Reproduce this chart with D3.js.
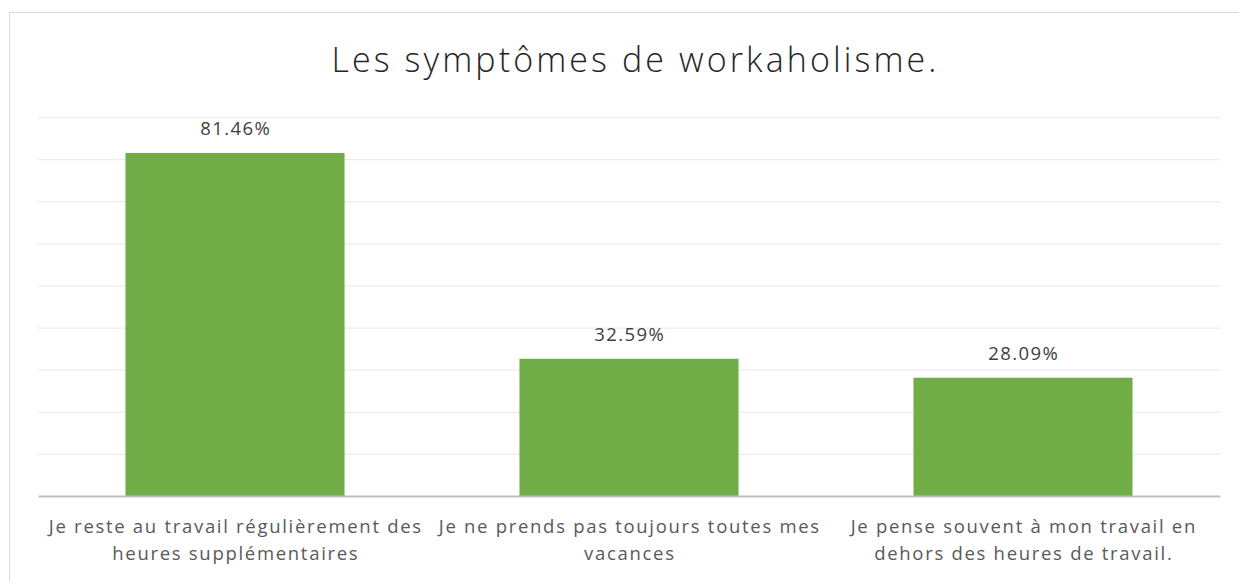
<!DOCTYPE html>
<html>
<head>
  <meta charset="utf-8">
  <title>Les symptômes de workaholisme.</title>
  <style>
    body { margin: 0; background: #fff; }
    text { font-family: "Open Sans", "Noto Sans", sans-serif; }
  </style>
</head>
<body>
  <script src="https://cdn.jsdelivr.net/npm/d3@7"></script>
  <script>
    // data
    var categories = [
      ["Je reste au travail régulièrement des", "heures supplémentaires"],
      ["Je ne prends pas toujours toutes mes", "vacances"],
      ["Je pense souvent à mon travail en", "dehors des heures de travail."]
    ];
    var values = [81.46, 32.59, 28.09];
    var yTicks = [0, 10, 20, 30, 40, 50, 60, 70, 80, 90];

    var width = 1239, height = 581;
    var margin = {top: 117, right: 19, bottom: 85, left: 38};

    var svg = d3.select("body").append("svg")
      .attr("width", width)
      .attr("height", height);

    // chart border
    svg.append("rect")
      .attr("x", 9.5).attr("y", 12.5)
      .attr("width", 1240).attr("height", 600)
      .attr("fill", "none")
      .attr("stroke", "#d9d9d9")
      .attr("stroke-width", 1);

    var x = d3.scaleBand()
      .domain(d3.range(values.length))
      .range([margin.left, width - margin.right])
      .paddingInner(0.444)
      .paddingOuter(0.222);

    var y = d3.scaleLinear()
      .domain([0, 90])
      .range([height - margin.bottom, margin.top]);

    // gridlines
    svg.append("g")
      .attr("id", "grid")
      .selectAll("line")
      .data(yTicks.slice(1))
      .enter()
      .append("line")
      .attr("x1", margin.left)
      .attr("x2", width - margin.right)
      .attr("y1", function(d) { return y(d) + 0.5; })
      .attr("y2", function(d) { return y(d) + 0.5; })
      .attr("stroke", "#ececec")
      .attr("stroke-width", 1.3);

    // bars
    svg.append("g")
      .attr("id", "bars")
      .selectAll("rect")
      .data(values)
      .enter()
      .append("rect")
      .attr("x", function(d, i) { return x(i); })
      .attr("y", function(d) { return y(d); })
      .attr("width", x.bandwidth())
      .attr("height", function(d) { return y(0) - y(d); })
      .attr("fill", "#70ad47");

    // baseline axis
    var xAxis = svg.append("g")
      .attr("transform", "translate(0," + y(0) + ")")
      .call(d3.axisBottom(x).tickSize(0).tickFormat(""));
    xAxis.select(".domain").attr("stroke", "#bfbfbf").attr("stroke-width", 2.2);

    // category labels (two lines each)
    var labels = svg.append("g").attr("id", "cat-labels")
      .selectAll("text")
      .data(categories)
      .enter()
      .append("text")
      .attr("text-anchor", "middle")
      .attr("fill", "#595959")
      .style("font-size", "18.5px")
      .style("letter-spacing", "1.7px");
    labels.each(function(d, i) {
      var t = d3.select(this);
      d.forEach(function(line, j) {
        t.append("tspan")
          .attr("x", x(i) + x.bandwidth() / 2 + 0.85)
          .attr("y", y(0) + 37 + j * 27)
          .text(line);
      });
    });

    // data labels
    svg.append("g")
      .attr("id", "data-labels")
      .selectAll("text")
      .data(values)
      .enter()
      .append("text")
      .attr("x", function(d, i) { return x(i) + x.bandwidth() / 2 + 0.7; })
      .attr("y", function(d) { return y(d) - 18; })
      .attr("text-anchor", "middle")
      .attr("fill", "#404040")
      .style("font-size", "18.5px")
      .style("letter-spacing", "1.4px")
      .text(function(d) { return d.toFixed(2) + "%"; });

    // title
    svg.append("text")
      .attr("x", 635.5)
      .attr("y", 72)
      .attr("text-anchor", "middle")
      .attr("fill", "#262626")
      .style("font-size", "34px")
      .style("font-weight", 300)
      .style("letter-spacing", "3.1px")
      .text("Les symptômes de workaholisme.");
  </script>
</body>
</html>
